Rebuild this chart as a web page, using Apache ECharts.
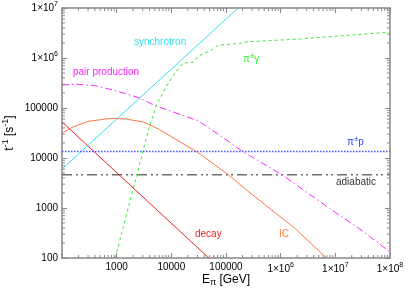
<!DOCTYPE html>
<html>
<head>
<meta charset="utf-8">
<script src="https://cdn.jsdelivr.net/npm/echarts@6/dist/echarts.min.js"></script>
<style>html,body{margin:0;padding:0;background:#fff}#c{width:415px;height:291px}</style>
</head>
<body>
<div id="c"></div>
<script>
// ---- data (E_pi [GeV], rate [1/s]) ----
const synchrotron = [[100, 6000], [1.67e5, 1e7]];
const pairProduction = [[100, 288000], [174, 300000], [400, 280000], [860, 229000], [2700, 158000], [4700, 115000], [31600, 55000], [91000, 25000], [195000, 13800], [1.07e6, 4570], [8.9e6, 890], [2.8e7, 380], [1e8, 132]];
const piGamma = [[940, 100], [1500, 710], [2300, 4300], [3800, 36000], [5340, 115000], [7750, 250000], [12000, 525000], [16700, 794000], [25700, 830000], [31600, 1.1e6], [55000, 1.45e6], [72000, 1.8e6], [1.74e5, 1.95e6], [2.3e5, 2.1e6], [2.2e6, 2.4e6], [1e8, 3.3e6]];
const piP = [[100, 13500], [1e8, 13500]];
const adiabatic = [[100, 4600], [1e8, 4600]];
const decay = [[100, 52500], [1066, 4790], [48400, 100]];
const ic = [[100, 31600], [158, 41700], [300, 54000], [760, 62000], [1500, 60000], [3080, 52500], [5800, 38000], [31600, 12600], [112000, 4570], [263000, 2090], [1.78e6, 400], [6.9e6, 100]];
const xRange = [100, 1e8];
const yRange = [100, 1e7];

const FONT = '"Liberation Sans", Arial, Helvetica, sans-serif';
const GRAY = '#888888';

function fmt(v) {
  const e = Math.round(Math.log10(v));
  if (e >= 6) return '{a|1×10}{s|' + e + '}';
  return '{a|' + Math.pow(10, e) + '}';
}
const rich = {
  a: { fontSize: 10, fontFamily: FONT, color: '#000' },
  s: { fontSize: 7, fontFamily: FONT, color: '#000', padding: [0, 0, 8, 0] }
};

// minor tick values (2..9 x 10^k)
const minorTicks = [];
for (let k = 2; k < 8; k++) for (let m = 2; m <= 9; m++) minorTicks.push([m * Math.pow(10, k), yRange[0], 0]);
for (let k = 2; k < 7; k++) for (let m = 2; m <= 9; m++) minorTicks.push([xRange[0], m * Math.pow(10, k), 1]);

const chart = echarts.init(document.getElementById('c'), null, { renderer: 'canvas' });

function lineSeries(name, data, color, type, width) {
  return {
    name, type: 'line', data, showSymbol: false, symbol: 'none', smooth: false,
    itemStyle: { color },
    lineStyle: { color, type, width }, silent: true, animation: false, z: 3
  };
}

const baseAxis = {
  type: 'log', logBase: 10,
  axisLine: { show: true, lineStyle: { color: GRAY, width: 1.5 } },
  axisTick: { show: true, inside: true, length: 5, lineStyle: { color: GRAY, width: 1 } },
  splitLine: { show: false },
  minorTick: { show: false }
};

chart.setOption({
  animation: false,
  grid: { left: 62, right: 25, top: 8, bottom: 33, containLabel: false, outerBoundsMode: 'none' },
  xAxis: [
    Object.assign({}, baseAxis, {
      min: xRange[0], max: xRange[1], position: 'bottom',
      axisLabel: { margin: 4, formatter: (v) => (Math.round(Math.log10(v)) === 2 ? '' : fmt(v)), rich },
      name: 'E{sub|π} [GeV]', nameLocation: 'middle', nameGap: 15, nameMoveOverlap: false,
      nameTextStyle: { fontSize: 12, fontFamily: FONT, color: '#000', verticalAlign: 'top',
        rich: { sub: { fontSize: 9, fontFamily: FONT, color: '#000', padding: [5, 0, 0, 0] } } }
    }),
    Object.assign({}, baseAxis, {
      min: xRange[0], max: xRange[1], position: 'top', axisLabel: { show: false }
    })
  ],
  yAxis: [
    Object.assign({}, baseAxis, {
      min: yRange[0], max: yRange[1], position: 'left',
      axisLabel: { margin: 4, formatter: fmt, rich },
      name: 't{sup|-1} [s{sup|-1}]', nameLocation: 'middle', nameGap: 44, nameRotate: 90, nameMoveOverlap: false,
      nameTextStyle: { fontSize: 12, fontFamily: FONT, color: '#000',
        rich: { sup: { fontSize: 9, fontFamily: FONT, color: '#000', padding: [0, 0, 8, 0] } } }
    }),
    Object.assign({}, baseAxis, {
      min: yRange[0], max: yRange[1], position: 'right', axisLabel: { show: false }
    })
  ],
  series: [
    lineSeries('synchrotron', synchrotron, '#33e0f0', 'solid', 1),
    lineSeries('pair production', pairProduction, '#ff22ff', [7, 3, 1.5, 3], 1),
    lineSeries('π±γ', piGamma, '#33ee33', [3, 3], 1),
    lineSeries('π±p', piP, '#4455ff', [1.5, 1.5], 1.5),
    lineSeries('adiabatic', adiabatic, '#707070', [10, 4, 2, 3, 2, 4], 1.5),
    lineSeries('decay', decay, '#ee2222', 'solid', 1),
    lineSeries('IC', ic, '#ff7744', 'solid', 1),
    {
      type: 'custom', data: minorTicks, silent: true, clip: false, z: 5, animation: false,
      renderItem: function (params, api) {
        const kind = api.value(2);
        const st = { stroke: GRAY, lineWidth: 1 };
        if (kind === 0) {
          const v = api.value(0);
          const b = api.coord([v, yRange[0]]);
          const t = api.coord([v, yRange[1]]);
          return { type: 'group', children: [
            { type: 'line', shape: { x1: b[0], y1: b[1], x2: b[0], y2: b[1] - 3 }, style: st },
            { type: 'line', shape: { x1: t[0], y1: t[1], x2: t[0], y2: t[1] + 3 }, style: st }
          ] };
        } else {
          const v = api.value(1);
          const l = api.coord([xRange[0], v]);
          const r = api.coord([xRange[1], v]);
          return { type: 'group', children: [
            { type: 'line', shape: { x1: l[0], y1: l[1], x2: l[0] + 3, y2: l[1] }, style: st },
            { type: 'line', shape: { x1: r[0], y1: r[1], x2: r[0] - 3, y2: r[1] }, style: st }
          ] };
        }
      }
    }
  ],
  graphic: [
    { type: 'text', left: 134, top: 37, style: { text: 'synchrotron', fill: '#33e0f0', font: '10px ' + FONT } },
    { type: 'text', left: 73, top: 67, style: { text: 'pair production', fill: '#ff22ff', font: '10px ' + FONT } },
    { type: 'text', left: 243, top: 52, style: { text: '{a|π}{s|±}{a|γ}', fill: '#33ee33', rich: { a: { fontSize: 10, fontFamily: FONT, fill: '#33ee33' }, s: { fontSize: 8, fontFamily: FONT, fill: '#33ee33', padding: [0, 0, 7, 0] } } } },
    { type: 'text', left: 347, top: 135, style: { text: '{a|π}{s|±}{a|p}', fill: '#3344ff', rich: { a: { fontSize: 10, fontFamily: FONT, fill: '#3344ff' }, s: { fontSize: 8, fontFamily: FONT, fill: '#3344ff', padding: [0, 0, 7, 0] } } } },
    { type: 'text', left: 336, top: 177, style: { text: 'adiabatic', fill: '#333', font: '10px ' + FONT } },
    { type: 'text', left: 195, top: 229, style: { text: 'decay', fill: '#ee2222', font: '10px ' + FONT } },
    { type: 'text', left: 279, top: 229, style: { text: 'IC', fill: '#ff7744', font: '10px ' + FONT } }
  ]
});
</script>
</body>
</html>
